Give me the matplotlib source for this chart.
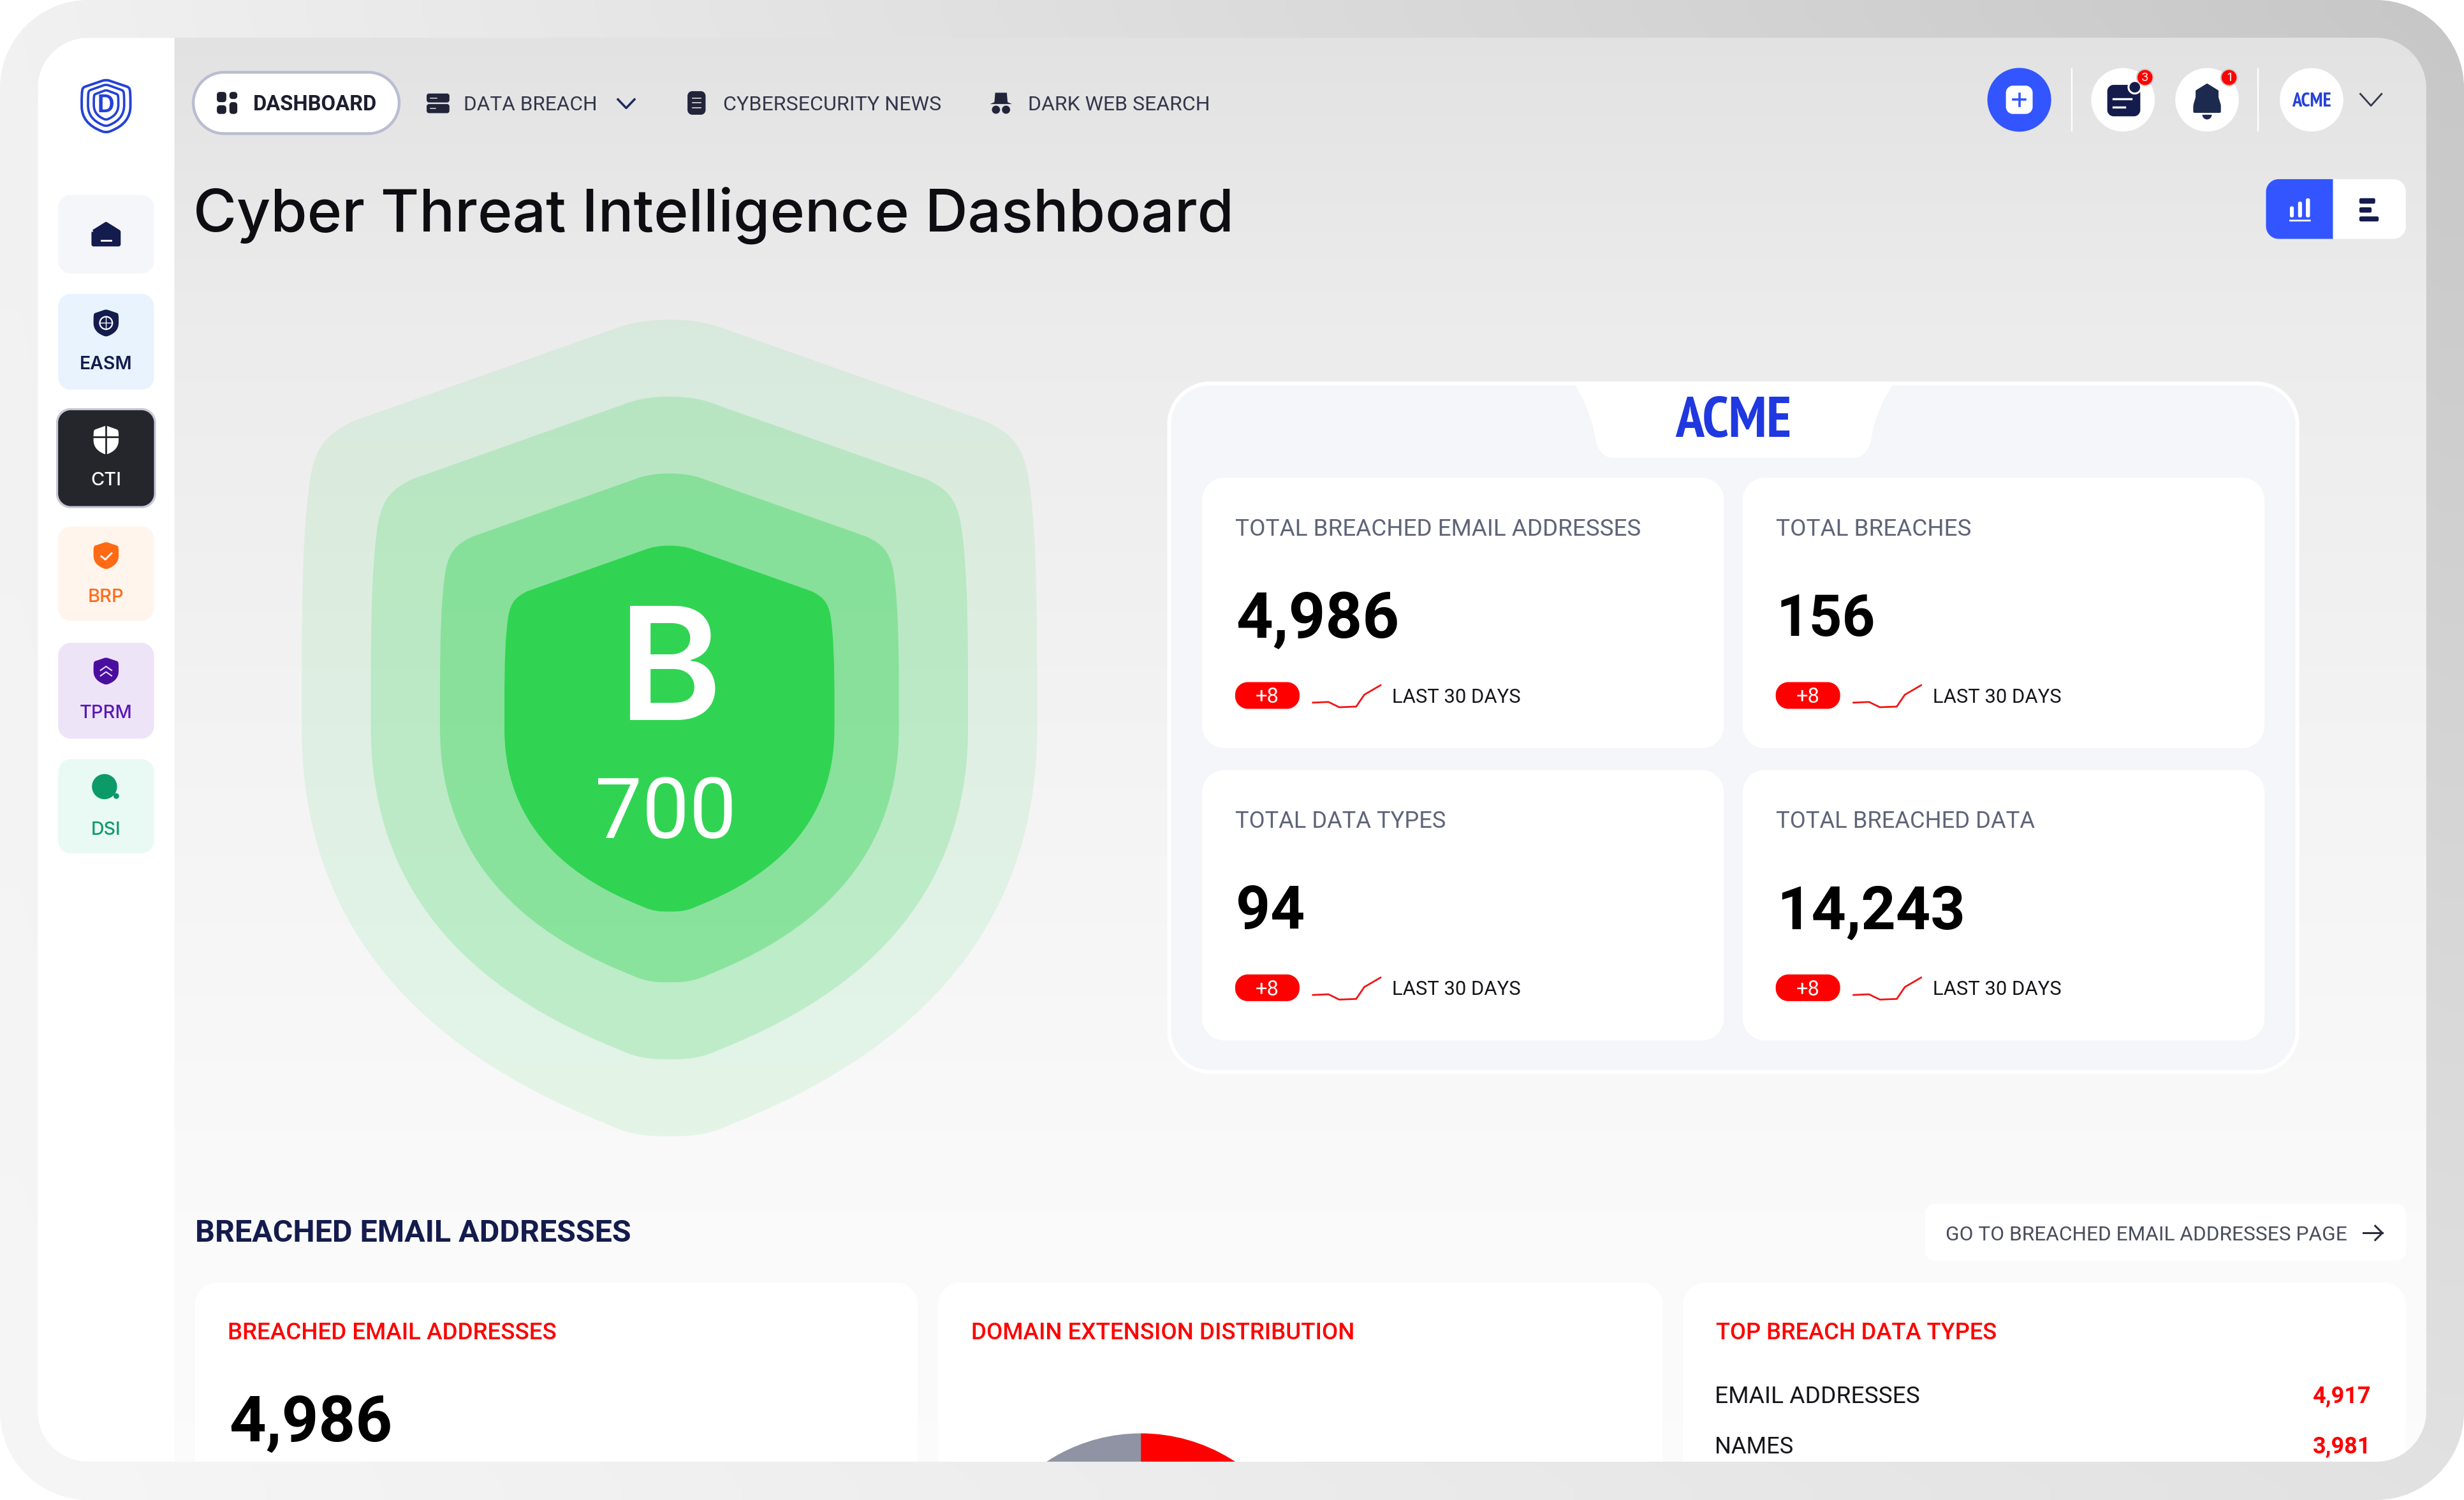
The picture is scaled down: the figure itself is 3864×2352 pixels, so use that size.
import numpy as np
import matplotlib
matplotlib.use("Agg")
import matplotlib.pyplot as plt
from matplotlib.path import Path
from matplotlib.patches import PathPatch, Circle, Wedge
from matplotlib import font_manager as fm

# ---------- content ----------
NAV_LABELS = ["DASHBOARD", "DATA BREACH", "CYBERSECURITY NEWS", "DARK WEB SEARCH"]
SIDE_LABELS = ["EASM", "CTI", "BRP", "TPRM", "DSI"]
PAGE_TITLE = "Cyber Threat Intelligence Dashboard"
GRADE = "B"
SCORE = 700
COMPANY = "ACME"
KPI_TITLES = ["TOTAL BREACHED EMAIL ADDRESSES", "TOTAL BREACHES", "TOTAL DATA TYPES", "TOTAL BREACHED DATA"]
KPI_VALUES = [4986, 156, 94, 14243]
KPI_DELTA = [8, 8, 8, 8]
SPARK_X = [0, .23, .39, .64, .76, 1]
SPARK_Y = [.21, .24, 0, .03, .57, 1]
SECTION_TITLE = "BREACHED EMAIL ADDRESSES"
SECTION_LINK = "GO TO BREACHED EMAIL ADDRESSES PAGE"
CARD_TITLES = ["BREACHED EMAIL ADDRESSES", "DOMAIN EXTENSION DISTRIBUTION", "TOP BREACH DATA TYPES"]
BREACHED_EMAILS = 4986
DOMAIN_SHARES = [35, 65]
DOMAIN_COLORS = ["#ff0000", "#8f93a3"]
DATA_TYPES = ["EMAIL ADDRESSES", "NAMES"]
DATA_TYPE_COUNTS = [4917, 3981]

W, H = 1568.0, 954.4
PX = 3864 / 1568
PT = PX * 72 / 100
NAVY = "#141b4d"
LABEL = "Roboto"

# narrowest bold face that is installed, for the ACME word mark
narrow = None
for key in ("narrow", "condensed"):
    for f in fm.fontManager.ttflist:
        if (key in f.name.lower() or key in str(f.stretch).lower() or key in f.fname.lower()) and \
                ("bold" in f.fname.lower() or str(f.weight) in ("700", "bold")) and "oblique" not in f.fname.lower() \
                and "italic" not in f.fname.lower():
            narrow = f.fname
            break
    if narrow:
        break
LOGO_FP = fm.FontProperties(fname=narrow) if narrow else fm.FontProperties(family="Roboto", weight="bold")

fig = plt.figure(figsize=(38.64, 23.52), dpi=100, facecolor="white")
ax = fig.add_axes([0, 0, 1, 1])
ax.set_axis_off()
rend = fig.canvas.get_renderer()


def rr_path(x0, y0, x1, y1, r, corners=(1, 1, 1, 1)):
    k = 0.45
    rtl, rtr, rbr, rbl = [r * c for c in corners]
    v = [(x0 + rtl, y0), (x1 - rtr, y0), (x1 - rtr * k, y0), (x1, y0 + rtr * k), (x1, y0 + rtr),
         (x1, y1 - rbr), (x1, y1 - rbr * k), (x1 - rbr * k, y1), (x1 - rbr, y1),
         (x0 + rbl, y1), (x0 + rbl * k, y1), (x0, y1 - rbl * k), (x0, y1 - rbl),
         (x0, y0 + rtl), (x0, y0 + rtl * k), (x0 + rtl * k, y0), (x0 + rtl, y0), (x0 + rtl, y0)]
    c = [Path.MOVETO, Path.LINETO, Path.CURVE4, Path.CURVE4, Path.CURVE4,
         Path.LINETO, Path.CURVE4, Path.CURVE4, Path.CURVE4,
         Path.LINETO, Path.CURVE4, Path.CURVE4, Path.CURVE4,
         Path.LINETO, Path.CURVE4, Path.CURVE4, Path.CURVE4, Path.CLOSEPOLY]
    return Path(v, c)


def add_path(p, fc, ec="none", lw=0, z=2, alpha=None, clip=None, **kw):
    pp = PathPatch(p, fc=fc, ec=ec, lw=lw * PT, zorder=z, alpha=alpha, **kw)
    ax.add_patch(pp)
    pp.set_clip_path(clip if clip is not None else SCREEN)
    return pp


def rect(x0, y0, x1, y1, r, fc, **kw):
    corners = kw.pop("corners", (1, 1, 1, 1))
    return add_path(rr_path(x0, y0, x1, y1, r, corners), fc, **kw)


def shield_path(cx, top, hw, h):
    C, L = Path.CURVE4, Path.LINETO
    seq = [(Path.MOVETO, (-.15, .012)),
           (C, (-.07, -.003)), (C, (.07, -.003)), (C, (.15, .012)),
           (L, (.86, .125)),
           (C, (.93, .14)), (C, (.96, .155)), (C, (.975, .19)),
           (C, (.995, .24)), (C, (1, .33)), (C, (1, .42)),
           (L, (1, .50)),
           (C, (1, .71)), (C, (.76, .88)), (C, (.17, .985)),
           (C, (.10, 1.0)), (C, (.05, 1.0)), (C, (0, 1.0)),
           (C, (-.05, 1.0)), (C, (-.10, 1.0)), (C, (-.17, .985)),
           (C, (-.76, .88)), (C, (-1, .71)), (C, (-1, .50)),
           (L, (-1, .42)),
           (C, (-1, .33)), (C, (-.995, .24)), (C, (-.975, .19)),
           (C, (-.96, .155)), (C, (-.93, .14)), (C, (-.86, .125)),
           (L, (-.15, .012)),
           (Path.CLOSEPOLY, (-.15, .012))]
    return Path([(cx + a * hw, top + b * h) for _, (a, b) in seq], [c for c, _ in seq])


def T(x, y, s, size, color="black", width=None, ha="left", weight="normal", family="Inter", fp=None, z=6):
    kw = dict(fontproperties=fp.copy()) if fp is not None else dict(weight=weight, family=family)
    t = ax.text(x, y, s, color=color, ha=ha, va="center", zorder=z, **kw)
    t.set_fontsize(size * PT)
    t.set_clip_path(SCREEN)
    if width is not None:
        bb = t.get_window_extent(rend)
        t.set_fontsize(t.get_fontsize() * (width * PX) / bb.width)
    t.set_y(y + (0.05 if family == "Roboto" else 0.08) * t.get_fontsize() / PT)
    return t


def gradient(arr, extent, clip, z=1):
    im = ax.imshow(arr, extent=extent, aspect="auto", interpolation="bilinear", zorder=z)
    im.set_clip_path(clip)


def chevron(cx, cy, w, h, color, lw=1.4):
    ax.plot([cx - w / 2, cx, cx + w / 2], [cy - h / 2, cy + h / 2, cy - h / 2], color=color, lw=lw * 1.8, zorder=6)


# ---------- frame ----------
ax.set_xlim(0, W)
ax.set_ylim(H, 0)
OUTER = PathPatch(rr_path(0, 0, W, H, 56), fc="none", ec="none")
ax.add_patch(OUTER)
corners = np.array([[[.945] * 3, [.78] * 3], [[.965] * 3, [.885] * 3]])
u = np.linspace(0, 1, 64)[:, None, None]
v = np.linspace(0, 1, 64)[None, :, None]
grad = (1 - u) * ((1 - v) * corners[0, 0] + v * corners[0, 1]) + u * ((1 - v) * corners[1, 0] + v * corners[1, 1])
gradient(grad, (0, W, H, 0), OUTER, z=0)

SCREEN = PathPatch(rr_path(24, 24, 1544, 930, 32), fc="none", ec="none")
ax.add_patch(SCREEN)
stops = np.array([24, 200, 480, 760, 930])
vals = np.array([.888, .925, .955, .98, .985])
bg = np.interp(np.linspace(24, 930, 256), stops, vals)[:, None, None] * np.array([1, 1, 1.004])[None, None, :]
gradient(np.clip(bg, 0, 1), (24, 1544, 930, 24), SCREEN, z=1)
rect(24, 24, 111, 930, 0, "white", z=2)

# ---------- logo ----------
for hw, tp, h, lw in [(15.5, 51, 33, 1.6), (11.5, 54, 26, 1.5), (7.8, 57.5, 18.5, 1.5)]:
    add_path(shield_path(67.5, tp, hw, h), "none", ec="#2442d8", lw=lw, z=4)
T(67.5, 66, "D", 15, "#2442d8", ha="center", weight="bold")

# ---------- sidebar ----------
TILES = [(124, 174, "#f5f6fa", None), (187, 248, "#e8f3fe", NAVY), (261, 322, "#25262b", "white"),
         (335, 395, "#fff5ec", "#ff6a1a"), (409, 470, "#eee4f8", "#5a17b8"), (483, 543, "#e9faf4", "#0e9a68")]
ICON_COL = [NAVY, NAVY, "white", "#ff6a14", "#4a0e9f", "#0b9a68"]
rect(35.7, 259.7, 99.3, 323.3, 9, "#c6c8d6", z=2.5)
for i, (y0, y1, fc, tc) in enumerate(TILES):
    rect(37, y0, 98, y1, 8, fc, z=3)
    if i:
        T(67.5, y0 + 44, SIDE_LABELS[i - 1], 13, tc, ha="center", weight="medium" if i != 1 else "semibold",
          width=[33.5, 19.5, 23, 33.5, 19][i - 1])
# home icon
add_path(Path([(59.5, 147.5), (67.5, 142.5), (75.5, 147.5), (75.5, 155.5), (59.5, 155.5), (59.5, 147.5)]),
         ICON_COL[0], ec=ICON_COL[0], lw=2.6, z=4, joinstyle="round")
ax.plot([64.5, 70.5], [152.8, 152.8], color="white", lw=2.0, zorder=5)
add_path(shield_path(67.5, 197, 8, 17), ICON_COL[1], z=4)
ax.add_patch(Circle((67.5, 205.5), 4, fc="none", ec="white", lw=1.6, zorder=5))
ax.plot([63.5, 71.5], [205.5, 205.5], color="white", lw=1, zorder=5)
ax.plot([67.5, 67.5], [201.5, 209.5], color="white", lw=1, zorder=5)
add_path(shield_path(67.5, 271, 8, 18), "white", z=4)
ax.plot([67.5, 67.5], [271, 289], color="#25262b", lw=2, zorder=5)
ax.plot([59, 76], [278, 278], color="#25262b", lw=2, zorder=5)
add_path(shield_path(67.5, 345, 8, 17), ICON_COL[3], z=4)
ax.plot([64.5, 67, 71], [354, 356, 352], color="white", lw=2, zorder=5)
add_path(shield_path(67.5, 418.5, 8, 17), ICON_COL[4], z=4)
ax.plot([64, 67.5, 71], [426.5, 424, 426.5], color="#e8dcf8", lw=1.5, zorder=5)
ax.plot([64, 67.5, 71], [430, 427.5, 430], color="#e8dcf8", lw=1.5, zorder=5)
ax.add_patch(Circle((66.5, 500.5), 8, fc=ICON_COL[5], ec="none", zorder=4))
ax.add_patch(Circle((74, 506.5), 1.8, fc=ICON_COL[5], ec="none", zorder=4))

# ---------- nav ----------
rect(123, 46, 254, 85, 19.5, "white", ec="#b9bdd0", lw=1.8, z=3)
T(161, 66, NAV_LABELS[0], 14, "#1c1d2e", weight="bold", family=LABEL, width=79)
for a, b, c, d in [(138, 144, 58.5, 65), (146, 151, 58.5, 63), (138, 144, 67, 72.5), (146, 151, 65, 72.5)]:
    rect(a, c, b, d, 1.8, "#1e2030", z=4)
T(295, 66, NAV_LABELS[1], 14, "#34364a", family=LABEL, width=85)
chevron(398.5, 66, 10.5, 5.5, "#1f2a5c")
rect(271.5, 59.5, 286, 65.2, 1.5, "#22243a", z=4)
rect(271.5, 66.2, 286, 72, 1.5, "#22243a", z=4)
ax.plot([274, 278], [62.3, 62.3], color="#dcdcdc", lw=1.1, zorder=5)
ax.plot([274, 277], [69, 69], color="#dcdcdc", lw=1.1, zorder=5)
T(460, 66, NAV_LABELS[2], 14, "#34364a", family=LABEL, width=139)
rect(437.5, 58, 449, 73, 3, "#22243a", z=4)
for yy in (62.5, 65.5, 68.5):
    ax.plot([440.5, 446], [yy, yy], color="#dcdcdc", lw=1.2, zorder=5)
T(654, 66, NAV_LABELS[3], 14, "#34364a", family=LABEL, width=116)
add_path(Path([(632.8, 65), (633.3, 59), (640.7, 59), (641.2, 65), (644, 66.2), (630, 66.2), (632.8, 65)]), "#22243a", z=4)
ax.add_patch(Circle((633.8, 69.8), 2.6, fc="#22243a", zorder=4))
ax.add_patch(Circle((640.2, 69.8), 2.6, fc="#22243a", zorder=4))

# ---------- header right ----------
ax.add_patch(Circle((1285, 63.5), 20.3, fc="#3355ff", ec="none", zorder=3))
rect(1276.5, 54.5, 1293.5, 72.5, 4.5, "white", z=4)
ax.plot([1285, 1285], [59.5, 67.5], color="#3355ff", lw=2.6, zorder=5)
ax.plot([1281, 1289], [63.5, 63.5], color="#3355ff", lw=2.6, zorder=5)
for xx in (1318.5, 1437):
    ax.plot([xx, xx], [44, 83], color="white", lw=1.6, zorder=3)
for xx in (1351, 1404.5, 1471):
    ax.add_patch(Circle((xx, 63.5), 20.2, fc="white", ec="none", zorder=3))
rect(1341, 54, 1362, 74, 4, NAVY, z=4)
ax.add_patch(Circle((1358.5, 55.5), 4, fc=NAVY, ec="white", lw=2.2, zorder=5))
ax.plot([1345, 1356], [63, 63], color="white", lw=2.4, zorder=5)
ax.plot([1345, 1352], [68, 68], color="white", lw=2.4, zorder=5)
add_path(Path([(1396.5, 67), (1398, 62), (1398, 58), (1404.5, 54), (1411, 58), (1411, 62), (1412.5, 67), (1412.5, 71), (1396.5, 71), (1396.5, 67)]),
         "#1c2a4f", ec="#1c2a4f", lw=1.6, z=4, joinstyle="round")
ax.add_patch(Wedge((1404.5, 73), 3, 0, 180, fc="#1c2a4f", zorder=4))
for xx, n in ((1365, "3"), (1418.5, "1")):
    ax.add_patch(Circle((xx, 49.3), 5.2, fc="#ff0000", ec="#c9c9c9", lw=1.5, zorder=6))
    T(xx, 49.3, n, 7.5, "white", ha="center", z=7)
T(1471, 63.5, COMPANY, 12, "#2442d8", ha="center", fp=LOGO_FP, width=25)
chevron(1508.8, 63.5, 13.5, 7.5, "#33364a", lw=1.1)

rect(1442, 114, 1531, 152, 8, "white", z=3)
rect(1442, 114, 1484.6, 152, 8, "#3355ff", z=4, corners=(1, 0, 0, 1))
for a, b, top in [(1457.2, 1459.7, 131.3), (1462.4, 1464.9, 128.3), (1467.4, 1470, 126.2)]:
    rect(a, top, b, 138.3, 1, "white", z=5)
rect(1456.8, 139.8, 1470.5, 140.9, 0.3, "white", z=5)
for xe, y0, y1 in [(1511.5, 126.1, 129.6), (1509.2, 131.9, 135.3), (1513.7, 137.7, 140.9)]:
    rect(1501.4, y0, xe, y1, 1, NAVY, z=5)

T(123, 134, PAGE_TITLE, 42, "#0d0d12", weight="medium", width=662)

# ---------- shield ----------
GREEN = "#30d452"
add_path(shield_path(426, 203, 234, 520), GREEN, alpha=.10, z=3)
add_path(shield_path(426, 252, 190, 422), GREEN, alpha=.20, z=3.1)
add_path(shield_path(426, 301, 146, 324), GREEN, alpha=.36, z=3.2)
add_path(shield_path(426, 347, 105, 233), GREEN, z=3.3)
T(426.5, 424, GRADE, 100, "white", ha="center", weight="semibold")
T(423.7, 516, str(SCORE), 53, "white", ha="center", family="Roboto", width=90)

# ---------- ACME panel ----------
rect(744, 244, 1462, 682, 26, "#f5f6fa", ec="white", lw=2.4, z=3)
C4 = Path.CURVE4
tab = Path([(1001, 243), (1010, 257), (1013, 268), (1014.7, 276), (1016, 286), (1020, 291.3), (1026.5, 291.3),
            (1179.6, 291.3), (1186, 291.3), (1190, 286), (1191.4, 276), (1193, 268), (1196, 257), (1205.8, 243),
            (1001, 243)],
           [Path.MOVETO, C4, C4, C4, C4, C4, C4, Path.LINETO, C4, C4, C4, C4, C4, C4, Path.CLOSEPOLY])
add_path(tab, "white", z=4)
T(1103, 266, COMPANY, 36, "#2038e0", ha="center", fp=LOGO_FP, width=74)

KPI_POS = [(765, 304), (1109, 304), (765, 490), (1109, 490)]
TITLE_W = [258, 124, 134, 165]
NUM_W = [104, 63, 44, 120]
for (x, y), title, val, d, tw, nw in zip(KPI_POS, KPI_TITLES, KPI_VALUES, KPI_DELTA, TITLE_W, NUM_W):
    rect(x, y, x + 332, y + 172, 14, "white", z=4)
    T(x + 21, y + 32, title, 16, "#5f6478", family=LABEL, width=tw)
    T(x + 21.5, y + 88.5, f"{val:,}", 40, "black", weight="bold", family="Roboto", width=nw)
    rect(x + 21, y + 130, x + 62, y + 147, 8, "#ff0000", z=5)
    T(x + 41.5, y + 139, f"+{d}", 12, "white", ha="center", family=LABEL, width=15)
    sx = x + 70.5 + np.array(SPARK_X) * 43
    sy = y + 146 - np.array(SPARK_Y) * 14
    ax.plot(sx, sy, color="#f01515", lw=2.0, zorder=5)
    T(x + 121, y + 139, "LAST 30 DAYS", 13, "#15151a", family=LABEL, width=82)

# ---------- lower section ----------
T(124, 784, SECTION_TITLE, 20, NAVY, weight="bold", family=LABEL, width=277)
rect(1225, 766, 1531, 802, 6, "white", z=3)
T(1238, 785, SECTION_LINK, 14, "#4a4d5c", family=LABEL, width=255)
ax.plot([1504, 1516], [784.5, 784.5], color="#2a2c3c", lw=2.2, zorder=5)
ax.plot([1511.5, 1516, 1511.5], [780, 784.5, 789], color="#2a2c3c", lw=2.2, zorder=5)

CARD_X = [(124, 584), (597, 1058), (1071, 1531)]
TITLE_WS = [210, 245, 179]
for (x0, x1), title, tw in zip(CARD_X, CARD_TITLES, TITLE_WS):
    rect(x0, 816, x1, 1000, 14, "white", z=3)
    T(x0 + 21, 847.5, title, 15.5, "#ff0000", weight="medium", family=LABEL, width=tw)
T(146, 904, f"{BREACHED_EMAILS:,}", 40, "black", weight="bold", family="Roboto", width=104)

theta = -90.0
total = sum(DOMAIN_SHARES)
for share, col in zip(DOMAIN_SHARES, DOMAIN_COLORS):
    sweep = 360.0 * share / total
    w = Wedge((726, 1021), 109, theta, theta + sweep, fc=col, ec="none", zorder=4)
    ax.add_patch(w)
    w.set_clip_path(SCREEN)
    theta += sweep

for y, name, cnt in zip((888, 920), DATA_TYPES, DATA_TYPE_COUNTS):
    T(1091, y, name, 16, "#15151a", family=LABEL, width=130 if name != "NAMES" else 50)
    T(1509, y, f"{cnt:,}", 16, "#ff0000", ha="right", weight="bold", family="Roboto", width=37)

ax.set_xlim(0, W)
ax.set_ylim(H, 0)
fig.savefig("out.png", dpi=100)
